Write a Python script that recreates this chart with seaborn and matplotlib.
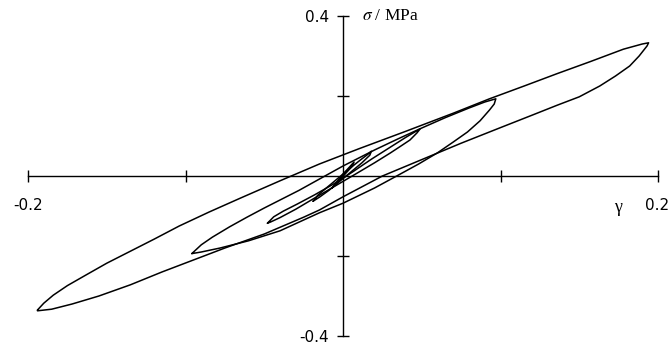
import numpy as np
import pandas as pd
import matplotlib
matplotlib.use("Agg")
import matplotlib.pyplot as plt
import seaborn as sns

# Strain / stress loops (gamma, sigma in MPa); each loop listed as the rising branch
# followed by the returning branch
loop1_gamma = [-0.194, -0.190, -0.184, -0.175, -0.163, -0.150, -0.135, -0.120, -0.104, -0.085, -0.065, -0.040,
               -0.015, 0.010, 0.040, 0.070, 0.093, 0.115, 0.136, 0.157, 0.178, 0.190, 0.194,
               0.193, 0.188, 0.182, 0.173, 0.163, 0.150, 0.136, 0.120, 0.100, 0.075, 0.050, 0.025, 0.000,
               -0.015, -0.025, -0.050, -0.075, -0.093, -0.115, -0.135, -0.155, -0.172, -0.185, -0.194]
loop1_sigma = [-0.335, -0.318, -0.298, -0.274, -0.247, -0.218, -0.188, -0.158, -0.125, -0.090, -0.055, -0.012,
               0.030, 0.068, 0.112, 0.157, 0.193, 0.225, 0.256, 0.286, 0.317, 0.330, 0.333,
               0.325, 0.300, 0.275, 0.250, 0.225, 0.198, 0.177, 0.152, 0.121, 0.082, 0.041, 0.000, -0.052,
               -0.085, -0.103, -0.145, -0.180, -0.207, -0.240, -0.272, -0.300, -0.320, -0.333, -0.337]

loop2_gamma = [-0.096, -0.090, -0.083, -0.072, -0.061, -0.050, -0.040, -0.028, -0.017, 0.000, 0.020, 0.035,
               0.050, 0.065, 0.080, 0.090, 0.097,
               0.096, 0.093, 0.087, 0.079, 0.070, 0.060, 0.048, 0.035, 0.020, 0.000, -0.015, -0.040,
               -0.060, -0.078, -0.090, -0.096]
loop2_sigma = [-0.194, -0.172, -0.153, -0.127, -0.103, -0.080, -0.060, -0.036, -0.012, 0.025, 0.065, 0.093,
               0.120, 0.146, 0.170, 0.185, 0.193,
               0.180, 0.165, 0.138, 0.110, 0.085, 0.058, 0.030, 0.002, -0.030, -0.068, -0.092, -0.137,
               -0.162, -0.180, -0.190, -0.194]

loop3_gamma = [-0.048, -0.044, -0.038, -0.029, -0.018, -0.006, 0.006, 0.018, 0.030, 0.040, 0.046, 0.049,
               0.047, 0.0425, 0.036, 0.030, 0.020, 0.008, -0.005, -0.018, -0.030, -0.040, -0.046, -0.048]
loop3_sigma = [-0.118, -0.102, -0.088, -0.070, -0.047, -0.020, 0.010, 0.042, 0.072, 0.097, 0.111, 0.118,
               0.108, 0.090, 0.073, 0.0575, 0.033, 0.005, -0.025, -0.055, -0.083, -0.104, -0.115, -0.118]

loop4_gamma = [-0.019, -0.016, -0.010, -0.003, 0.004, 0.011, 0.016, 0.018,
               0.017, 0.012, 0.005, -0.002, -0.009, -0.015, -0.019]
loop4_sigma = [-0.063, -0.048, -0.028, -0.005, 0.018, 0.040, 0.055, 0.062,
               0.052, 0.033, 0.010, -0.013, -0.036, -0.053, -0.063]

loop5_gamma = [-0.007, -0.004, 0.000, 0.004, 0.007, 0.006, 0.002, -0.002, -0.005, -0.007]
loop5_sigma = [-0.030, -0.015, 0.005, 0.022, 0.035, 0.025, 0.008, -0.010, -0.022, -0.030]

loops = [(loop1_gamma, loop1_sigma), (loop2_gamma, loop2_sigma), (loop3_gamma, loop3_sigma),
         (loop4_gamma, loop4_sigma), (loop5_gamma, loop5_sigma)]

frames = []
for i, (g, s) in enumerate(loops):
    g = list(g) + [g[0]]
    s = list(s) + [s[0]]
    frames.append(pd.DataFrame({"gamma": g, "sigma": s, "loop": i}))
df = pd.concat(frames, ignore_index=True)

x_ticks = [-0.2, -0.1, 0.1, 0.2]
y_ticks = [-0.4, -0.2, 0.2, 0.4]

sns.set_theme(style="white")
plt.rcParams["mathtext.fontset"] = "stix"
fig = plt.figure(figsize=(6.7, 3.45), dpi=100)
ax = fig.add_axes([0, 0, 1, 1])

sns.lineplot(data=df, x="gamma", y="sigma", units="loop", estimator=None, sort=False,
             color="black", linewidth=1.1, ax=ax, legend=False)
for line in ax.lines:
    line.set_solid_joinstyle("round")

ax.set_xlim(-0.2178, 0.2076)
ax.set_ylim(-0.4225, 0.44)

for side in ["top", "right"]:
    ax.spines[side].set_visible(False)
ax.spines["left"].set_position(("data", 0))
ax.spines["bottom"].set_position(("data", 0))
ax.spines["left"].set_bounds(-0.4, 0.4)
ax.spines["bottom"].set_bounds(-0.2, 0.2)
for side in ["left", "bottom"]:
    ax.spines[side].set_color("black")
    ax.spines[side].set_linewidth(1.0)

ax.set_xticks(x_ticks)
ax.set_yticks(y_ticks)
ax.tick_params(axis="both", direction="inout", length=8, width=1.0, color="black",
               labelbottom=False, labelleft=False, bottom=True, left=True)
ax.set_xlabel("")
ax.set_ylabel("")

lab = dict(color="black", fontsize=11, family="DejaVu Sans")
ax.text(-0.2, -0.075, "-0.2", ha="center", va="center", **lab)
ax.text(0.2070, -0.075, "0.2", ha="right", va="center", **lab)
ax.text(-0.009, 0.395, "0.4", ha="right", va="center", **lab)
ax.text(-0.009, -0.405, "-0.4", ha="right", va="center", **lab)
ax.text(0.1744, -0.078, "γ", ha="center", va="center", color="black", fontsize=13,
        family="Liberation Serif")
ax.text(0.012, 0.400, r"$\sigma$ / MPa", ha="left", va="center", color="black", fontsize=12.5,
        family="Liberation Serif")

fig.savefig("out.png", dpi=100)
